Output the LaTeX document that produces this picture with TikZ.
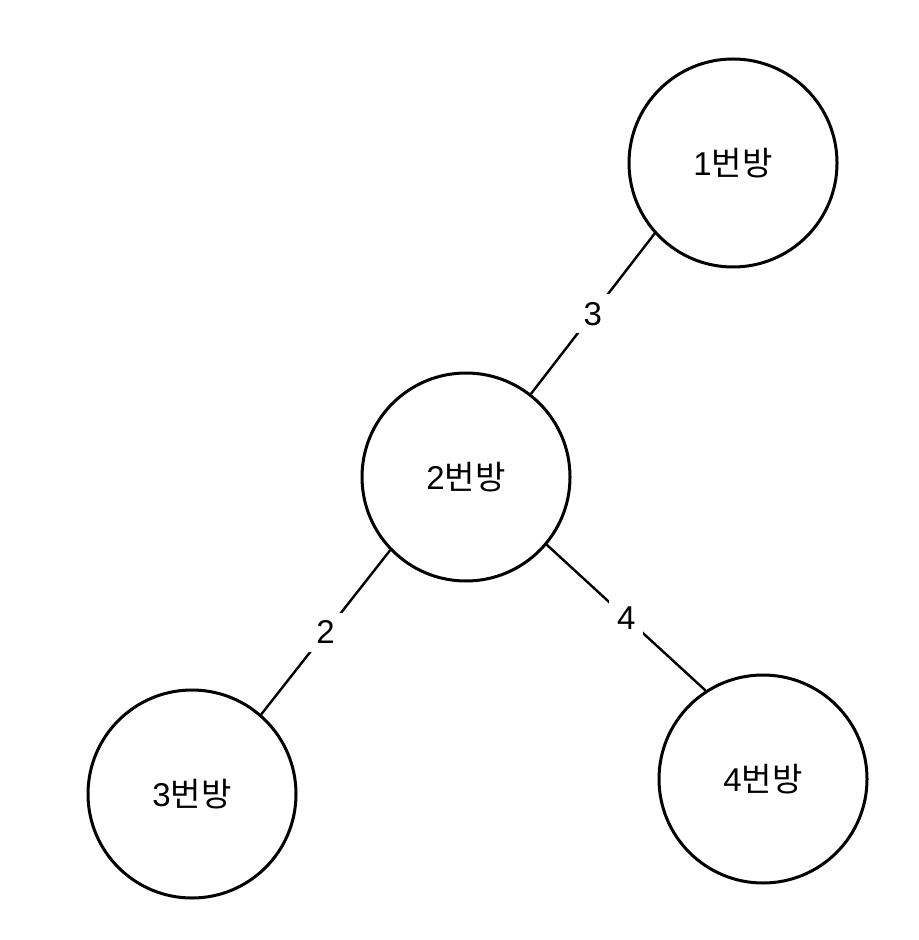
\documentclass[tikz,border=0pt]{standalone}
\usepackage{fontspec}
\setmainfont{Liberation Sans}
\newfontfamily\kr{Noto Sans CJK KR}

\tikzset{
  room/.style={draw,circle,line width=1.5pt,minimum size=104pt,inner sep=0pt,font=\fontsize{16.5}{19}\selectfont},
  link/.style={line width=1.2pt},
  weight/.style={fill=white,inner sep=4pt,font=\fontsize{16.5}{19}\selectfont}
}

\begin{document}
\begin{tikzpicture}[x=0.5pt,y=-0.5pt,cap=round]
        % fix the page size
        \useasboundingbox (0,0) rectangle (918,940);

        % draw the rooms
        \foreach \i/\x/\y in {1/733/163, 2/466/477, 3/192/794, 4/763/779}
                \node[room] (r\i) at (\x,\y) {\i{\kr 번방}};

        % draw the corridors with their weights
        \foreach \a/\sa/\b/\sb/\w in {1/222/2/52/3, 2/224/3/49/2, 2/320/4/123/4}
                \draw[link] (r\a.\sa) -- node[weight] {\w} (r\b.\sb);
\end{tikzpicture}
\end{document}
